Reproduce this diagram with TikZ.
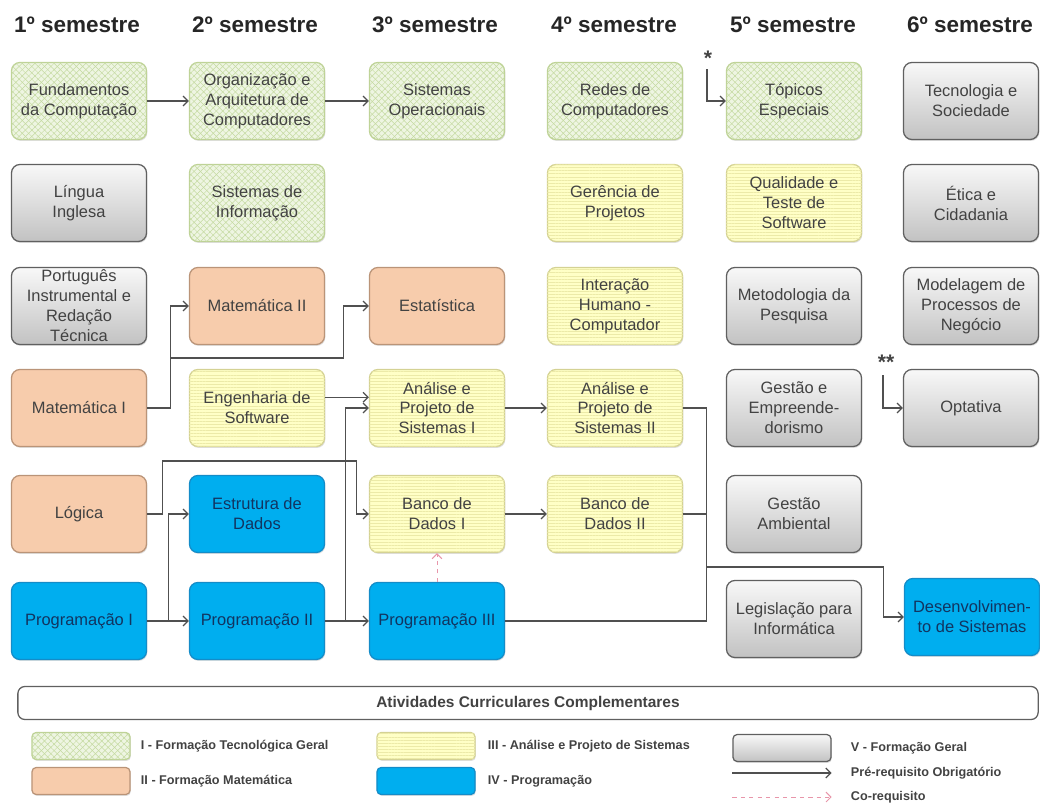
\documentclass[tikz,border=0pt]{standalone}
\usepackage{fontspec}
\setmainfont{Liberation Sans}
\usetikzlibrary{arrows.meta,patterns.meta,shadows}
\definecolor{verdeF}{RGB}{238,245,226}
\definecolor{verdeL}{RGB}{196,218,160}
\definecolor{verdeB}{RGB}{190,210,150}
\definecolor{laranjaF}{RGB}{247,204,172}
\definecolor{laranjaB}{RGB}{186,148,120}
\definecolor{amareloF}{RGB}{255,255,198}
\definecolor{amareloL}{RGB}{236,234,168}
\definecolor{amareloB}{RGB}{212,210,148}
\definecolor{azulF}{RGB}{0,174,239}
\definecolor{azulB}{RGB}{20,140,200}
\definecolor{azulT}{RGB}{18,52,96}
\definecolor{cinzaT}{RGB}{248,248,248}
\definecolor{cinzaI}{RGB}{194,194,194}
\definecolor{cinzaB}{RGB}{96,96,96}
\definecolor{texto}{RGB}{66,66,66}
\definecolor{linha}{RGB}{80,80,80}
\definecolor{rosa}{RGB}{232,150,170}
\begin{document}
\begin{tikzpicture}[x=0.025cm,y=-0.025cm,
  disc/.style={rounded corners=6pt, minimum width=3.375cm, minimum height=1.925cm, align=center, inner sep=1pt,
    font=\fontsize{11.7}{14.2}\selectfont, text=texto, line width=0.9pt,
    drop shadow={shadow xshift=0.6pt, shadow yshift=-1pt, opacity=0.25}},
  tec/.style={disc, draw=verdeB, fill=verdeF,
    postaction={pattern={Lines[angle=45,distance=3.2pt,line width=0.35pt]}, pattern color=verdeL},
    postaction={pattern={Lines[angle=-45,distance=3.2pt,line width=0.35pt]}, pattern color=verdeL}},
  mat/.style={disc, draw=laranjaB, fill=laranjaF},
  aps/.style={disc, draw=amareloB, fill=amareloF,
    postaction={pattern={Lines[angle=0,distance=2.2pt,line width=0.3pt]}, pattern color=amareloL}},
  prog/.style={disc, draw=azulB, fill=azulF, text=azulT},
  geral/.style={disc, draw=cinzaB, top color=cinzaT, bottom color=cinzaI},
  leg/.style={minimum width=2.45cm, minimum height=0.675cm, rounded corners=3pt},
  legtxt/.style={anchor=west, font=\bfseries\fontsize{9}{11}\selectfont, text=texto},
  sem/.style={font=\bfseries\fontsize{16}{18}\selectfont, text=black!85},
  seta/.style={draw=linha, line width=0.9pt, -{Straight Barb[length=3.5pt,width=7pt]}},
  liga/.style={draw=linha, line width=0.9pt},
  coreq/.style={draw=rosa, dashed, line width=0.7pt, -{Straight Barb[length=3.5pt,width=7pt]}}]
\useasboundingbox (0,0) rectangle (1040,811);
% semestres
\node[sem] (s1) at (77,25) {1º semestre};
\node[sem] (s2) at (255,25) {2º semestre};
\node[sem] (s3) at (435,25) {3º semestre};
\node[sem] (s4) at (614,25) {4º semestre};
\node[sem] (s5) at (793,25) {5º semestre};
\node[sem] (s6) at (970,25) {6º semestre};
% 1o semestre
\node[tec] (fundcomp) at (79,101) {Fundamentos\\da Computação};
\node[geral] (lingingl) at (79,203) {Língua\\Inglesa};
\node[geral] (portug) at (79,306) {Português\\Instrumental e\\Redação\\Técnica};
\node[mat] (mat1) at (79,408) {Matemática I};
\node[mat] (logica) at (79,514) {Lógica};
\node[prog] (prog1) at (79,621) {Programação I};
% 2o semestre
\node[tec] (orgarq) at (257,101) {Organização e\\Arquitetura de\\Computadores};
\node[tec] (sisinf) at (257,203) {Sistemas de\\Informação};
\node[mat] (mat2) at (257,306) {Matemática II};
\node[aps] (engsw) at (257,408) {Engenharia de\\Software};
\node[prog] (estdados) at (257,514) {Estrutura de\\Dados};
\node[prog] (prog2) at (257,621) {Programação II};
% 3o semestre
\node[tec] (sisop) at (437,101) {Sistemas\\Operacionais};
\node[mat] (estat) at (437,306) {Estatística};
\node[aps] (aps1) at (437,408) {Análise e\\Projeto de\\Sistemas I};
\node[aps] (bd1) at (437,514) {Banco de\\Dados I};
\node[prog] (prog3) at (437,621) {Programação III};
% 4o semestre
\node[tec] (redes) at (615,101) {Redes de\\Computadores};
\node[aps] (gerproj) at (615,203) {Gerência de\\Projetos};
\node[aps] (ihc) at (615,306) {Interação\\Humano -\\Computador};
\node[aps] (aps2) at (615,408) {Análise e\\Projeto de\\Sistemas II};
\node[aps] (bd2) at (615,514) {Banco de\\Dados II};
% 5o semestre
\node[tec] (topicos) at (794,101) {Tópicos\\Especiais};
\node[aps] (qualsw) at (794,203) {Qualidade e\\Teste de\\Software};
\node[geral] (metpesq) at (794,306) {Metodologia da\\Pesquisa};
\node[geral] (gestemp) at (794,408) {Gestão e\\Empreende-\\dorismo};
\node[geral] (gestamb) at (794,514) {Gestão\\Ambiental};
\node[geral] (legisl) at (794,619) {Legislação para\\Informática};
% 6o semestre
\node[geral] (tecsoc) at (971,101) {Tecnologia e\\Sociedade};
\node[geral] (etica) at (971,203) {Ética e\\Cidadania};
\node[geral] (modproc) at (971,306) {Modelagem de\\Processos de\\Negócio};
\node[geral] (optativa) at (971,408) {Optativa};
\node[prog] (desenv) at (972,617) {Desenvolvimen-\\to de Sistemas};
% asteriscos
\node[font=\bfseries\fontsize{15}{15}\selectfont, text=texto] (ast1) at (708,58) {*};
\node[font=\bfseries\fontsize{15}{15}\selectfont, text=texto] (ast2) at (886,362) {**};
\coordinate (ast1-pe) at (707,69);
\coordinate (ast2-pe) at (883,375);
% pre-requisitos
\draw[seta] (fundcomp) -- (orgarq);
\draw[seta] (orgarq) -- (sisop);
\draw[seta] (ast1-pe) |- (topicos.west);
\draw[seta] (ast2-pe) |- (optativa.west);
\draw[seta] (mat1.east) -- ++(23,0) |- (mat2.west);
\draw[seta] (mat1.east) -- ++(23,0) -- ++(0,-50) -- ++(173,0) |- (estat.west);
\draw[seta] ([yshift=0.27cm]engsw.east) -- ([yshift=0.27cm]aps1.west);
\draw[seta] (prog2.east) -- ++(20,0) |- (aps1.west);
\draw[seta] (logica.east) -- ++(15,0) -- ++(0,-53) -- ++(194,0) |- (bd1.west);
\draw[seta] (prog1.east) -- ++(21,0) |- (estdados.west);
\draw[seta] (prog1) -- (prog2);
\draw[seta] (prog2) -- (prog3);
\draw[seta] (aps1) -- (aps2);
\draw[seta] (bd1) -- (bd2);
\draw[coreq] (prog3) -- (bd1);
\draw[seta] (aps2.east) -- ++(23,0) -- ++(0,159) -- ++(177,0) |- (desenv.west);
\draw[liga] (bd2.east) -- ++(23,0);
\draw[liga] (prog3.east) -- ++(201,0) -- ++(0,-54);
% atividades complementares
\node[draw=cinzaB, line width=0.9pt, rounded corners=5pt, minimum width=25.5cm, minimum height=0.825cm,
  font=\bfseries\fontsize{11}{13}\selectfont, text=texto] (ativ) at (528,703) {Atividades Curriculares Complementares};
% legenda
\node[tec, leg] (ltec) at (81,746) {};
\node[mat, leg] (lmat) at (81,781) {};
\node[aps, leg] (laps) at (426,746) {};
\node[prog, leg] (lprog) at (426,781) {};
\node[geral, leg] (lger) at (782,748) {};
\node[legtxt] (ttec) at (136,746) {I - Formação Tecnológica Geral};
\node[legtxt] (tmat) at (136,781) {II - Formação Matemática};
\node[legtxt] (taps) at (483,746) {III - Análise e Projeto de Sistemas};
\node[legtxt] (tprog) at (483,781) {IV - Programação};
\node[legtxt] (tger) at (846,748) {V - Formação Geral};
\node[legtxt] (tpre) at (846,773) {Pré-requisito Obrigatório};
\node[legtxt] (tco) at (846,797) {Co-requisito};
\draw[seta] (lger.west |- tpre) -- (lger.east |- tpre);
\draw[coreq] (lger.west |- tco) -- (lger.east |- tco);
\end{tikzpicture}
\end{document}
